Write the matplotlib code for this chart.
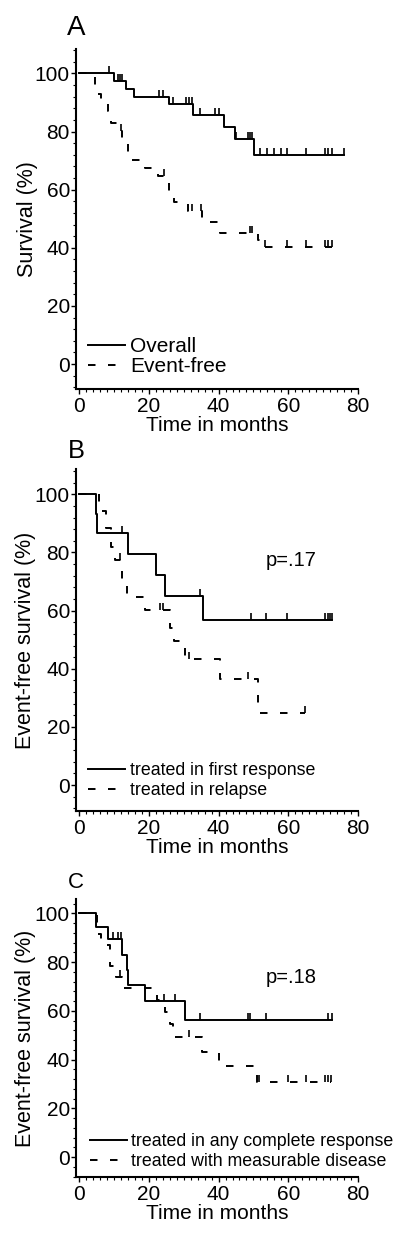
import numpy as np
import matplotlib
matplotlib.use("Agg")
import matplotlib.pyplot as plt
from matplotlib.ticker import MultipleLocator

plt.rcParams['font.family'] = ['Liberation Sans', 'DejaVu Sans']
plt.rcParams['lines.scale_dashes'] = False

# Panel A: overall and event-free survival
a_os_t = [0, 10.1, 13.5, 15.7, 25.9, 32.6, 41.7, 44.6, 50.1]
a_os_s = [100, 97.4, 94.6, 92.0, 89.4, 85.6, 81.7, 77.5, 71.9]
a_os_end = 76.0
a_os_cens = [8.7, 11.1, 11.6, 12.3, 23.0, 24.2, 27.0, 30.7, 31.6, 32.4, 34.8, 39.1, 40.2,
             45.0, 48.3, 49.0, 49.6, 51.9, 53.8, 55.9, 57.9, 59.7, 65.0, 70.5, 71.4, 72.4, 76.0]

a_efs_t = [0, 4.6, 6.4, 8.2, 9.0, 11.3, 12.3, 13.9, 19.0, 22.6, 24.6, 25.9, 27.3, 31.2, 35.2, 40.5, 51.3, 52.2]
a_efs_s = [100, 93.0, 90.5, 87.0, 83.1, 80.1, 75.9, 70.2, 67.5, 64.7, 62.2, 58.5, 55.6, 52.8, 49.0, 45.2, 42.6, 40.3]
a_efs_end = 72.4
a_efs_cens = [12.0, 24.3, 32.3, 35.0, 48.9, 49.6, 53.4, 59.7, 65.0, 70.5, 71.4, 72.4]

# Panel B: first response vs relapse
b_fr_t = [0, 4.7, 5.2, 14.0, 22.1, 24.5, 35.5]
b_fr_s = [100, 93.2, 86.6, 79.5, 72.1, 65.1, 56.8]
b_fr_end = 72.6
b_fr_cens = [12.3, 34.8, 49.4, 53.7, 59.7, 70.5, 71.3, 72.0, 72.6]

b_rel_t = [0, 5.6, 7.8, 9.0, 10.4, 12.4, 13.7, 18.8, 26.0, 27.1, 30.3, 40.3, 51.3]
b_rel_s = [100, 94.1, 88.4, 82.0, 77.5, 69.2, 64.6, 60.2, 54.0, 49.7, 43.3, 36.4, 24.7]
b_rel_end = 64.9
b_rel_cens = [11.6, 23.1, 24.2, 31.5, 48.4, 64.9]

# Panel C: complete response vs measurable disease
c_cr_t = [0, 4.7, 8.3, 12.4, 13.6, 14.0, 18.8, 30.5]
c_cr_s = [100, 94.5, 89.3, 82.9, 76.7, 70.4, 64.0, 56.2]
c_cr_end = 72.5
c_cr_cens = [9.7, 11.2, 12.1, 24.3, 27.4, 34.8, 48.4, 49.1, 53.7, 71.5, 72.5]

c_md_t = [0, 5.0, 6.4, 8.8, 10.5, 12.4, 22.3, 24.5, 26.0, 26.9, 35.2, 40.0, 51.0]
c_md_s = [100, 91.7, 87.0, 78.3, 73.7, 69.2, 64.5, 59.6, 54.8, 49.3, 43.1, 37.3, 30.8]
c_md_end = 72.3
c_md_cens = [11.8, 31.5, 51.5, 59.8, 65.0, 70.6, 71.5, 72.3]

W, H = 400, 1237
fig = plt.figure(figsize=(W / 100, H / 100), dpi=100)


def make_axes(top_px, bot_px, ylim):
    ax = fig.add_axes([76 / W, 1 - bot_px / H, (358 - 76) / W, (bot_px - top_px) / H])
    ax.set_xlim(-0.9, 80)
    ax.set_ylim(*ylim)
    for side in ['top', 'right']:
        ax.spines[side].set_visible(False)
    for side in ['left', 'bottom']:
        ax.spines[side].set_linewidth(1.5)
    ax.set_xticks([0, 20, 40, 60, 80])
    ax.set_yticks([0, 20, 40, 60, 80, 100])
    ax.xaxis.set_minor_locator(MultipleLocator(2))
    ax.yaxis.set_minor_locator(MultipleLocator(4))
    ax.tick_params(which='major', direction='out', length=3.6, width=1.0, labelsize=15)
    ax.tick_params(which='minor', direction='out', length=2.2, width=0.8)
    ax.tick_params(axis='y', which='major', pad=0.8)
    ax.tick_params(axis='x', which='major', pad=2.5)
    ax.set_xlabel('Time in months', fontsize=15, labelpad=0)
    return ax


def km(ax, t, s, end, cens, dashed, label):
    tt = list(t) + [end]
    ss = list(s) + [s[-1]]
    ls = (0, (5.4, 9.0)) if dashed else '-'
    line, = ax.step(tt, ss, where='post', color='black', lw=1.4, linestyle=ls, label=label)
    idx = np.searchsorted(t, cens, side='right') - 1
    ax.plot(cens, np.array(s)[idx], linestyle='none', marker=2, ms=4.8, mew=1.2, color='black')
    return line


# A
axA = make_axes(49, 389, (-8.6, 108.4))
h1 = km(axA, a_os_t, a_os_s, a_os_end, a_os_cens, False, 'Overall')
h2 = km(axA, a_efs_t, a_efs_s, a_efs_end, a_efs_cens, True, 'Event-free')
axA.set_ylabel('Survival (%)', fontsize=15.5)
axA.yaxis.set_label_coords(-0.135, 0.5)
axA.legend(handles=[h1, h2], loc='upper left', bbox_to_anchor=(0.043, 0.153), frameon=False,
           fontsize=15, handlelength=1.78, handletextpad=0.25, borderpad=0, borderaxespad=0,
           labelspacing=0.05)
fig.text(76 / W, 1 - 28 / H, 'A', fontsize=20, ha='center', va='center')

# B
axB = make_axes(469, 811, (-8.9, 108.7))
h1 = km(axB, b_fr_t, b_fr_s, b_fr_end, b_fr_cens, False, 'treated in first response')
h2 = km(axB, b_rel_t, b_rel_s, b_rel_end, b_rel_cens, True, 'treated in relapse')
axB.set_ylabel('Event-free survival (%)', fontsize=15.5)
axB.yaxis.set_label_coords(-0.142, 0.5)
axB.text(53.4, 77.1, 'p=.17', fontsize=14.5, ha='left', va='center')
axB.legend(handles=[h1, h2], loc='upper left', bbox_to_anchor=(0.043, 0.143), frameon=False,
           fontsize=12.8, handlelength=2.08, handletextpad=0.25, borderpad=0, borderaxespad=0,
           labelspacing=0.15)
fig.text(76 / W, 1 - 451 / H, 'B', fontsize=18.4, ha='center', va='center')

# C
axC = make_axes(899, 1177, (-8.2, 105.9))
h1 = km(axC, c_cr_t, c_cr_s, c_cr_end, c_cr_cens, False, 'treated in any complete response')
h2 = km(axC, c_md_t, c_md_s, c_md_end, c_md_cens, True, 'treated with measurable disease')
axC.set_ylabel('Event-free survival (%)', fontsize=15.5)
axC.yaxis.set_label_coords(-0.142, 0.5)
axC.text(53.4, 73.8, 'p=.18', fontsize=14.5, ha='left', va='center')
axC.legend(handles=[h1, h2], loc='upper left', bbox_to_anchor=(0.05, 0.158), frameon=False,
           fontsize=12.8, handlelength=2.08, handletextpad=0.2, borderpad=0, borderaxespad=0,
           labelspacing=0.15)
fig.text(76 / W, 1 - 883 / H, 'C', fontsize=16, ha='center', va='center')

fig.savefig('out.png', dpi=100)
